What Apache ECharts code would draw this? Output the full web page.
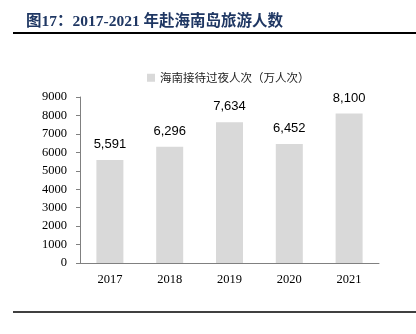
<!DOCTYPE html>
<html>
<head>
<meta charset="utf-8">
<script src="https://cdn.jsdelivr.net/npm/echarts@6/dist/echarts.min.js"></script>
<style>
  html, body { margin: 0; padding: 0; background: #fff; }
  #chart { width: 416px; height: 334px; }
</style>
</head>
<body>
<div id="chart"></div>
<script>
// Overnight visitors received by Hainan, 10k person-trips
const years = ['2017', '2018', '2019', '2020', '2021'];
const visitors = [5591, 6296, 7634, 6452, 8100];
const yTicks = [0, 1000, 2000, 3000, 4000, 5000, 6000, 7000, 8000, 9000];

const seriesName = '海南接待过夜人次（万人次）';
const chartTitle = '图17：2017-2021 年赴海南岛旅游人数';

const chart = echarts.init(document.getElementById('chart'), null, { renderer: 'canvas' });

chart.setOption({
  animation: false,
  backgroundColor: '#ffffff',
  title: {
    text: chartTitle,
    left: 21,
    top: 9,
    textStyle: {
      fontFamily: '"Liberation Serif", "Noto Sans CJK SC", serif',
      fontWeight: 'bold',
      fontSize: 15.5,
      color: '#1f3763'
    }
  },
  graphic: [
    { type: 'line', shape: { x1: 13, y1: 33, x2: 416, y2: 33 }, style: { stroke: '#000', lineWidth: 2 } },
    { type: 'line', shape: { x1: 13, y1: 312, x2: 416, y2: 312 }, style: { stroke: '#000', lineWidth: 1.5 } }
  ],
  legend: {
    top: 67,
    left: 142,
    itemWidth: 8,
    itemHeight: 8,
    itemGap: 2,
    icon: 'rect',
    textStyle: {
      fontFamily: '"Noto Sans CJK SC", sans-serif',
      fontSize: 11.5,
      color: '#222'
    },
    data: [seriesName]
  },
  grid: { left: 80, right: 37, top: 97, bottom: 71 },
  xAxis: {
    type: 'category',
    data: years,
    axisLine: { lineStyle: { color: '#808080', width: 1 } },
    axisTick: { inside: true, length: 4, lineStyle: { color: '#808080' } },
    axisLabel: {
      margin: 10,
      fontFamily: '"Liberation Serif", serif',
      fontSize: 12.5,
      color: '#000'
    }
  },
  yAxis: {
    type: 'value',
    min: yTicks[0],
    max: yTicks[yTicks.length - 1],
    interval: yTicks[1] - yTicks[0],
    splitLine: { show: false },
    axisLine: { show: true, lineStyle: { color: '#808080', width: 1 } },
    axisTick: { show: true, length: 4, lineStyle: { color: '#808080' } },
    axisLabel: {
      margin: 13,
      fontFamily: '"Liberation Serif", serif',
      fontSize: 12.5,
      color: '#000',
      formatter: v => String(v)
    }
  },
  series: [{
    name: seriesName,
    type: 'bar',
    data: visitors,
    barWidth: 27,
    itemStyle: { color: '#d9d9d9' },
    label: {
      show: true,
      position: 'top',
      distance: 9,
      fontFamily: '"Liberation Sans", Arial, sans-serif',
      fontSize: 13,
      color: '#000',
      formatter: p => p.value.toLocaleString('en-US')
    }
  }]
});
</script>
</body>
</html>
